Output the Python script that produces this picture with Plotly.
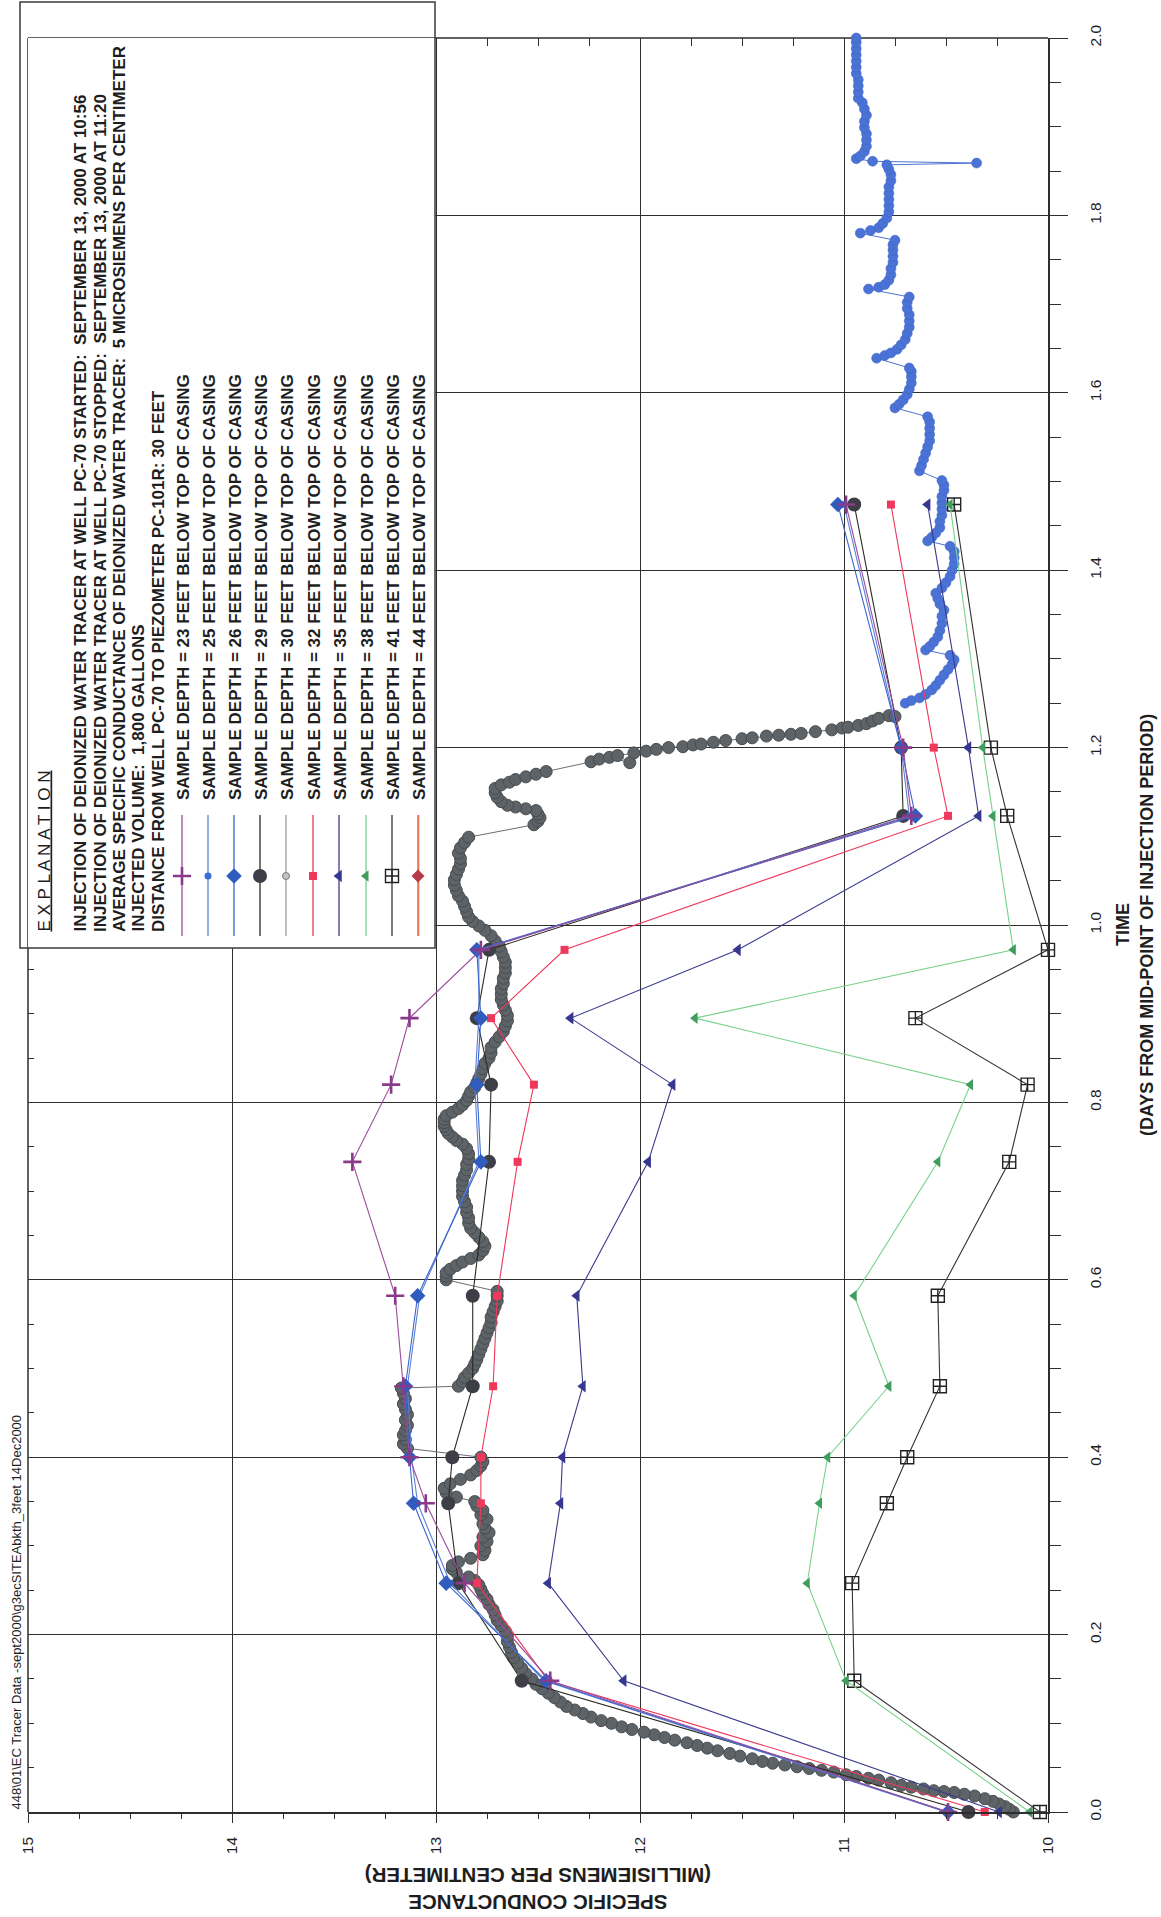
import plotly.graph_objects as go

# ---------------- canvas / plot-area geometry ----------------
W, H = 1161, 1917
X0, X1, Y0, Y1 = 28, 1048, 38, 1812   # plot area in pixels

# ---------------- data ----------------
SAMPLE_TIMES = [0.0, 0.148, 0.258, 0.348, 0.40, 0.48, 0.582, 0.733, 0.82, 0.895, 0.972, 1.123, 1.20, 1.474]
SC_23FT = [10.49, 12.44, 12.86, 13.05, 13.13, 13.16, 13.20, 13.41, 13.22, 13.13, 12.78, 10.67, 10.71, 10.99]
SC_25FT = [10.50, 12.47, 12.93, 13.09, 13.12, 13.14, 13.08, 12.79, 12.81, 12.79, 12.79, 10.68, 10.72, 11.00]
SC_26FT = [10.49, 12.46, 12.95, 13.11, 13.13, 13.15, 13.09, 12.78, 12.80, 12.78, 12.80, 10.65, 10.72, 11.03]
SC_29FT = [10.39, 12.58, 12.89, 12.94, 12.92, 12.82, 12.82, 12.74, 12.73, 12.80, 12.74, 10.71, 10.72, 10.95]
SC_32FT = [10.31, 12.45, 12.80, 12.78, 12.78, 12.72, 12.70, 12.60, 12.52, 12.73, 12.37, 10.49, 10.56, 10.77]
SC_35FT = [10.24, 12.08, 12.45, 12.39, 12.38, 12.28, 12.31, 11.96, 11.84, 12.34, 11.52, 10.34, 10.39, 10.59]
SC_38FT = [10.09, 10.99, 11.18, 11.12, 11.08, 10.78, 10.95, 10.54, 10.38, 11.73, 10.17, 10.27, 10.32, 10.48]
SC_41FT = [10.04, 10.95, 10.96, 10.79, 10.69, 10.53, 10.54, 10.19, 10.10, 10.65, 10.00, 10.20, 10.28, 10.46]

# continuous record (time in days, specific conductance mS/cm)
PROBE_GRAY = [
    (0.000, 10.17), (0.003, 10.19), (0.006, 10.21), (0.009, 10.24), (0.012, 10.27), (0.015, 10.31),
    (0.018, 10.36), (0.020, 10.41), (0.022, 10.46), (0.023, 10.51), (0.024, 10.56), (0.026, 10.61),
    (0.028, 10.67), (0.030, 10.72), (0.033, 10.77), (0.036, 10.83), (0.038, 10.88), (0.040, 10.94),
    (0.042, 10.99), (0.045, 11.05), (0.047, 11.11), (0.049, 11.17), (0.051, 11.23), (0.053, 11.29),
    (0.055, 11.35), (0.057, 11.40), (0.060, 11.45), (0.063, 11.51), (0.066, 11.56), (0.069, 11.62),
    (0.072, 11.67), (0.075, 11.72), (0.078, 11.77), (0.081, 11.83), (0.084, 11.88), (0.087, 11.93),
    (0.090, 11.98), (0.093, 12.04), (0.096, 12.09), (0.100, 12.14), (0.103, 12.19), (0.107, 12.24),
    (0.111, 12.28), (0.115, 12.32), (0.119, 12.36), (0.124, 12.39), (0.129, 12.42), (0.134, 12.45),
    (0.139, 12.48), (0.144, 12.51), (0.150, 12.53), (0.156, 12.56), (0.162, 12.58), (0.168, 12.60),
    (0.174, 12.62), (0.180, 12.63), (0.186, 12.64), (0.192, 12.65), (0.198, 12.65), (0.204, 12.66),
    (0.210, 12.68), (0.216, 12.70), (0.222, 12.71), (0.228, 12.72), (0.234, 12.74), (0.240, 12.75),
    (0.246, 12.77), (0.251, 12.78), (0.256, 12.79), (0.261, 12.81), (0.265, 12.84), (0.270, 12.90),
    (0.274, 12.92), (0.278, 12.92), (0.282, 12.89), (0.286, 12.83), (0.290, 12.77), (0.295, 12.76),
    (0.300, 12.78), (0.305, 12.75), (0.310, 12.77), (0.315, 12.74), (0.320, 12.76), (0.325, 12.77),
    (0.330, 12.75), (0.335, 12.78), (0.340, 12.77), (0.345, 12.80), (0.350, 12.81), (0.355, 12.90),
    (0.360, 12.95), (0.365, 12.96), (0.370, 12.93), (0.375, 12.88), (0.380, 12.83), (0.385, 12.80),
    (0.390, 12.78), (0.395, 12.77), (0.400, 12.78), (0.410, 13.14), (0.415, 13.16), (0.420, 13.15),
    (0.425, 13.16), (0.430, 13.15), (0.436, 13.14), (0.442, 13.15), (0.448, 13.14), (0.454, 13.15),
    (0.460, 13.16), (0.466, 13.15), (0.472, 13.16), (0.478, 13.17), (0.480, 12.89), (0.485, 12.87),
    (0.490, 12.86), (0.495, 12.84), (0.500, 12.82), (0.505, 12.81), (0.510, 12.80), (0.516, 12.79),
    (0.522, 12.78), (0.528, 12.77), (0.534, 12.76), (0.540, 12.75), (0.546, 12.74), (0.552, 12.73),
    (0.558, 12.73), (0.564, 12.72), (0.570, 12.71), (0.576, 12.70), (0.582, 12.70), (0.587, 12.70),
    (0.600, 12.95), (0.604, 12.95), (0.608, 12.95), (0.612, 12.93), (0.616, 12.90), (0.620, 12.87),
    (0.624, 12.83), (0.628, 12.79), (0.633, 12.77), (0.638, 12.76), (0.643, 12.77), (0.648, 12.79),
    (0.653, 12.81), (0.658, 12.83), (0.664, 12.84), (0.670, 12.84), (0.676, 12.85), (0.682, 12.85),
    (0.688, 12.86), (0.694, 12.87), (0.700, 12.87), (0.706, 12.87), (0.712, 12.87), (0.718, 12.86),
    (0.724, 12.85), (0.730, 12.85), (0.736, 12.84), (0.742, 12.84), (0.748, 12.85), (0.753, 12.87),
    (0.757, 12.90), (0.761, 12.92), (0.765, 12.94), (0.769, 12.95), (0.773, 12.96), (0.777, 12.96),
    (0.781, 12.96), (0.785, 12.95), (0.789, 12.92), (0.793, 12.89), (0.797, 12.87), (0.802, 12.85),
    (0.807, 12.84), (0.812, 12.83), (0.817, 12.81), (0.822, 12.80), (0.827, 12.79), (0.832, 12.78),
    (0.838, 12.77), (0.844, 12.76), (0.850, 12.74), (0.856, 12.73), (0.862, 12.73), (0.868, 12.71),
    (0.874, 12.69), (0.880, 12.67), (0.886, 12.66), (0.892, 12.65), (0.898, 12.65), (0.904, 12.66),
    (0.910, 12.67), (0.916, 12.68), (0.922, 12.68), (0.928, 12.68), (0.934, 12.67), (0.940, 12.67),
    (0.946, 12.66), (0.952, 12.66), (0.958, 12.66), (0.964, 12.67), (0.970, 12.68), (0.976, 12.69),
    (0.982, 12.71), (0.988, 12.73), (0.994, 12.76), (0.999, 12.79), (1.004, 12.82), (1.009, 12.84),
    (1.015, 12.85), (1.021, 12.86), (1.027, 12.87), (1.033, 12.89), (1.039, 12.90), (1.045, 12.91),
    (1.051, 12.91), (1.057, 12.90), (1.063, 12.89), (1.069, 12.88), (1.075, 12.88), (1.081, 12.89),
    (1.087, 12.88), (1.093, 12.86), (1.099, 12.84), (1.113, 12.52), (1.117, 12.50), (1.121, 12.49),
    (1.125, 12.50), (1.129, 12.51), (1.131, 12.56), (1.133, 12.61), (1.135, 12.65), (1.139, 12.68),
    (1.144, 12.70), (1.149, 12.71), (1.154, 12.71), (1.158, 12.68), (1.161, 12.64), (1.164, 12.61),
    (1.167, 12.56), (1.170, 12.51), (1.173, 12.46), (1.184, 12.24), (1.187, 12.20), (1.189, 12.15),
    (1.183, 12.05), (1.191, 12.11), (1.194, 12.03), (1.196, 11.97), (1.198, 11.92), (1.200, 11.86),
    (1.201, 11.79), (1.203, 11.74), (1.204, 11.70), (1.206, 11.64), (1.208, 11.58), (1.210, 11.50),
    (1.211, 11.45), (1.213, 11.38), (1.214, 11.32), (1.215, 11.26), (1.216, 11.21), (1.218, 11.14),
    (1.220, 11.06), (1.222, 11.01), (1.223, 10.98), (1.225, 10.93), (1.227, 10.89), (1.230, 10.86),
    (1.233, 10.83), (1.236, 10.78), (1.235, 10.75),
]
PROBE_BLUE = [
    (1.250, 10.70), (1.253, 10.67), (1.256, 10.63), (1.260, 10.60), (1.265, 10.57), (1.270, 10.55),
    (1.276, 10.53), (1.282, 10.51), (1.288, 10.49), (1.294, 10.47), (1.299, 10.46), (1.304, 10.48),
    (1.310, 10.60), (1.314, 10.58), (1.319, 10.56), (1.325, 10.54), (1.332, 10.53), (1.340, 10.52),
    (1.348, 10.52), (1.355, 10.51), (1.362, 10.53), (1.368, 10.54), (1.374, 10.55), (1.380, 10.52),
    (1.386, 10.50), (1.393, 10.48), (1.400, 10.47), (1.407, 10.46), (1.414, 10.46), (1.421, 10.46),
    (1.427, 10.48), (1.433, 10.59), (1.437, 10.57), (1.442, 10.55), (1.448, 10.53), (1.455, 10.53),
    (1.462, 10.52), (1.469, 10.52), (1.476, 10.52), (1.483, 10.52), (1.490, 10.51), (1.496, 10.51),
    (1.501, 10.52), (1.512, 10.63), (1.518, 10.62), (1.525, 10.61), (1.532, 10.60), (1.539, 10.59),
    (1.546, 10.58), (1.553, 10.58), (1.560, 10.58), (1.567, 10.58), (1.573, 10.59), (1.583, 10.75),
    (1.587, 10.73), (1.592, 10.71), (1.598, 10.69), (1.604, 10.68), (1.611, 10.67), (1.618, 10.67),
    (1.624, 10.67), (1.628, 10.68), (1.639, 10.84), (1.642, 10.80), (1.645, 10.77), (1.649, 10.74),
    (1.654, 10.72), (1.660, 10.70), (1.667, 10.69), (1.674, 10.68), (1.681, 10.68), (1.688, 10.68),
    (1.695, 10.69), (1.702, 10.69), (1.708, 10.68), (1.717, 10.88), (1.719, 10.83), (1.722, 10.80),
    (1.727, 10.78), (1.733, 10.77), (1.740, 10.77), (1.747, 10.76), (1.754, 10.76), (1.761, 10.76),
    (1.767, 10.76), (1.772, 10.75), (1.780, 10.92), (1.783, 10.87), (1.786, 10.83), (1.791, 10.81),
    (1.797, 10.79), (1.804, 10.78), (1.811, 10.78), (1.818, 10.78), (1.825, 10.78), (1.832, 10.78),
    (1.839, 10.77), (1.846, 10.77), (1.852, 10.78), (1.857, 10.79), (1.859, 10.35), (1.861, 10.86),
    (1.864, 10.94), (1.867, 10.92), (1.872, 10.90), (1.878, 10.89), (1.885, 10.89), (1.892, 10.89),
    (1.899, 10.90), (1.906, 10.90), (1.913, 10.89), (1.920, 10.90), (1.927, 10.91), (1.932, 10.93),
    (1.939, 10.93), (1.946, 10.93), (1.953, 10.93), (1.960, 10.94), (1.967, 10.94), (1.974, 10.94),
    (1.981, 10.94), (1.988, 10.94), (1.995, 10.94), (2.000, 10.94),
]

LEGEND_LABELS = [
    "SAMPLE DEPTH = 23 FEET BELOW TOP OF CASING",
    "SAMPLE DEPTH = 25 FEET BELOW TOP OF CASING",
    "SAMPLE DEPTH = 26 FEET BELOW TOP OF CASING",
    "SAMPLE DEPTH = 29 FEET BELOW TOP OF CASING",
    "SAMPLE DEPTH = 30 FEET BELOW TOP OF CASING",
    "SAMPLE DEPTH = 32 FEET BELOW TOP OF CASING",
    "SAMPLE DEPTH = 35 FEET BELOW TOP OF CASING",
    "SAMPLE DEPTH = 38 FEET BELOW TOP OF CASING",
    "SAMPLE DEPTH = 41 FEET BELOW TOP OF CASING",
    "SAMPLE DEPTH = 44 FEET BELOW TOP OF CASING",
]
EXPLANATION_LINES = [
    "INJECTION OF DEIONIZED WATER TRACER AT WELL PC-70 STARTED:  SEPTEMBER 13, 2000 AT 10:56",
    "INJECTION OF DEIONIZED WATER TRACER AT WELL PC-70 STOPPED:  SEPTEMBER 13, 2000 AT 11:20",
    "AVERAGE SPECIFIC CONDUCTANCE OF DEIONIZED WATER TRACER:  5 MICROSIEMENS PER CENTIMETER",
    "INJECTED VOLUME:  1,800 GALLONS",
    "DISTANCE FROM WELL PC-70 TO PIEZOMETER PC-101R: 30 FEET",
]
HEADER = r"448\01\EC Tracer Data -sept2000\g3ecSITEAbkth_3feet 14Dec2000"

# ---------------- styles (one per legend entry) ----------------
STYLES = [
    dict(line="#9a4a9a", mcol="#8a3a8a", sym="cross-thin-open", size=13, mlw=2.6),
    dict(line="#5b7fd8", mcol="#3a6cd6", sym="circle", size=7, mlw=0),
    dict(line="#3a66cf", mcol="#2f5cbd", sym="diamond", size=12, mlw=0),
    dict(line="#2b2b22", mcol="#3e3e46", sym="circle", size=14, mlw=0),
    dict(line="#9a9a9a", mcol="#c4c4c4", sym="circle", size=7, mlw=1),
    dict(line="#f0375c", mcol="#f0375c", sym="square", size=8, mlw=0),
    dict(line="#393a8e", mcol="#36388f", sym="triangle-left", size=11, mlw=0),
    dict(line="#78d28a", mcol="#3f9e5e", sym="triangle-left", size=10, mlw=0),
    dict(line="#333333", mcol="#222222", sym="square-cross-open", size=13, mlw=1.4),
    dict(line="#e2482c", mcol="#b43a48", sym="diamond", size=10, mlw=0),
]
SERIES = [SC_23FT, SC_25FT, SC_26FT, SC_29FT, None, SC_32FT, SC_35FT, SC_38FT, SC_41FT, None]

FONT = "Liberation Sans, Arial, sans-serif"
INK = "#1e1e1e"
GRID = "#2e2e2e"


def px_paper(x=None, y=None):
    px = None if x is None else (x - X0) / (X1 - X0)
    py = None if y is None else (Y1 - y) / (Y1 - Y0)
    return px, py


def px_data(x, y):
    c = 15 - (x - X0) / (X1 - X0) * 5.0
    t = (Y1 - y) / (Y1 - Y0) * 2.0
    return c, t


fig = go.Figure()

# continuous probe record (drawn first, underneath)
fig.add_trace(go.Scatter(
    x=[p[1] for p in PROBE_GRAY], y=[p[0] for p in PROBE_GRAY], mode="lines+markers",
    line=dict(color="#6a6e72", width=1),
    marker=dict(symbol="circle", size=12, color="#5d6367", line=dict(color="#474c50", width=1)),
    cliponaxis=False, showlegend=False, hoverinfo="skip"))
fig.add_trace(go.Scatter(
    x=[p[1] for p in PROBE_BLUE], y=[p[0] for p in PROBE_BLUE], mode="lines+markers",
    line=dict(color="#4d73d4", width=1),
    marker=dict(symbol="circle", size=10, color="#4b73d6", line=dict(color="#3d63c4", width=0.5)),
    cliponaxis=False, showlegend=False, hoverinfo="skip"))

# discrete samples
order = [8, 7, 6, 5, 3, 1, 2, 0]
for i in order:
    s = STYLES[i]
    vals = SERIES[i]
    mk = dict(symbol=s["sym"], size=s["size"], color=s["mcol"])
    if "open" in s["sym"]:
        mk["line"] = dict(color=s["mcol"], width=s["mlw"])
    fig.add_trace(go.Scatter(
        x=vals, y=SAMPLE_TIMES, mode="lines+markers",
        line=dict(color=s["line"], width=1.1), marker=mk,
        cliponaxis=False, showlegend=False, hoverinfo="skip"))

# empty traces so that the mirrored (inside-tick) axes render
fig.add_trace(go.Scatter(x=[None], y=[None], xaxis="x2", yaxis="y", showlegend=False, hoverinfo="skip"))
fig.add_trace(go.Scatter(x=[None], y=[None], xaxis="x", yaxis="y2", showlegend=False, hoverinfo="skip"))

# ---------------- legend symbols (pixel-space overlay axes) ----------------
LEG_X = [182, 208, 234, 260, 286, 313, 339, 366, 392, 418]
for i, lx in enumerate(LEG_X):
    s = STYLES[i]
    if i == 9:
        fig.add_trace(go.Scatter(x=[lx + 1.2, lx + 1.2], y=[815, 936], mode="lines",
                                 line=dict(color="#f2d23a", width=1.2), xaxis="x3", yaxis="y3",
                                 showlegend=False, hoverinfo="skip"))
    fig.add_trace(go.Scatter(x=[lx, lx], y=[815, 936], mode="lines",
                             line=dict(color=s["line"], width=1.3), xaxis="x3", yaxis="y3",
                             showlegend=False, hoverinfo="skip"))
    mk = dict(symbol=s["sym"], size=s["size"], color=s["mcol"])
    if "open" in s["sym"]:
        mk["line"] = dict(color=s["mcol"], width=s["mlw"])
    elif s["mlw"]:
        mk["line"] = dict(color="#777777", width=s["mlw"])
    fig.add_trace(go.Scatter(x=[lx], y=[876], mode="markers", marker=mk, xaxis="x3", yaxis="y3",
                             showlegend=False, hoverinfo="skip"))

# ---------------- annotations ----------------
LEGFONT = dict(family=FONT, size=17, color=INK)
ann = []
hx, hy = px_paper(16, 1812)
ann.append(dict(text=HEADER, x=hx, y=hy, xref="paper", yref="paper", textangle=-90,
                xanchor="center", yanchor="bottom", showarrow=False,
                font=dict(family=FONT, size=13, color=INK)))
ex, ey = px_paper(44, 934)
ann.append(dict(text="<u>E X P L A N A T I O N</u>", x=ex, y=ey, xref="paper", yref="paper",
                textangle=-90, xanchor="center", yanchor="bottom", showarrow=False,
                font=dict(family=FONT, size=17, color=INK)))
for lx, txt in zip([80, 100, 119, 138, 158], EXPLANATION_LINES):
    ax_, ay_ = px_paper(lx, 934)
    ann.append(dict(text="<b>" + txt + "</b>", x=ax_, y=ay_, xref="paper", yref="paper", textangle=-90,
                    xanchor="center", yanchor="bottom", showarrow=False, font=LEGFONT))
for lx, txt in zip(LEG_X, LEGEND_LABELS):
    ax_, ay_ = px_paper(lx + 1, 802)
    ann.append(dict(text="<b>" + txt + "</b>", x=ax_, y=ay_, xref="paper", yref="paper", textangle=-90,
                    xanchor="center", yanchor="bottom", showarrow=False, font=LEGFONT))
bx, by = px_paper(538, 1889)
ann.append(dict(text="<b>SPECIFIC CONDUCTANCE<br>(MILLISIEMENS PER CENTIMETER)</b>", x=bx, y=by,
                xref="paper", yref="paper", textangle=180, xanchor="center", yanchor="middle",
                showarrow=False, font=dict(family=FONT, size=20.5, color=INK)))
tx, ty = px_paper(1123, 925)
ann.append(dict(text="<b>TIME</b>", x=tx, y=ty, xref="paper", yref="paper", textangle=-90,
                xanchor="center", yanchor="middle", showarrow=False,
                font=dict(family=FONT, size=18, color=INK)))
dx, dy = px_paper(1147, 925)
ann.append(dict(text="<b>(DAYS FROM MID-POINT OF INJECTION PERIOD)</b>", x=dx, y=dy, xref="paper",
                yref="paper", textangle=-90, xanchor="center", yanchor="middle", showarrow=False,
                font=dict(family=FONT, size=18, color=INK)))

# ---------------- shapes ----------------
c_l, t_t = px_data(20, 2)
c_r, t_b = px_data(435, 948)
shapes = [
    # top / left border of the plot (covered by the explanation box)
    dict(type="line", xref="paper", yref="paper", x0=0, x1=1, y0=1, y1=1, layer="below",
         line=dict(color=GRID, width=1.5)),
    dict(type="line", xref="paper", yref="paper", x0=0, x1=0, y0=0, y1=1, layer="below",
         line=dict(color=GRID, width=1.5)),
    # white fill of explanation box, above gridlines but below traces
    dict(type="rect", xref="x", yref="y", x0=c_l, x1=c_r, y0=t_b, y1=t_t, layer="between",
         fillcolor="white", line=dict(width=0)),
]
bl, bt = px_paper(20, 2)
br, bb = px_paper(435, 948)
shapes.append(dict(type="rect", xref="paper", yref="paper", x0=bl, x1=br, y0=bb, y1=bt,
                   layer="above", fillcolor="rgba(0,0,0,0)", line=dict(color="#3a3a3a", width=1.5)))

TOP_MINOR = [12.75, 12.5, 12.25, 11.75, 11.5, 11.25, 10.75, 10.5, 10.25]
LEFT_MINOR = [0.05, 0.1, 0.15, 0.25, 0.3, 0.35, 0.45, 0.5, 0.55, 0.65, 0.7, 0.75, 0.85, 0.9, 0.95]

fig.update_layout(
    width=W, height=H, autosize=False,
    margin=dict(l=X0, r=W - X1, t=Y0, b=H - Y1, pad=0),
    paper_bgcolor="white", plot_bgcolor="rgba(0,0,0,0)",
    font=dict(family=FONT, color=INK),
    showlegend=False,
    xaxis=dict(range=[15, 10], dtick=1, tick0=10, showgrid=True, gridcolor=GRID, gridwidth=1,
               showline=True, linecolor=GRID, linewidth=1.5, zeroline=False,
               ticks="outside", ticklen=9, tickwidth=1.2, tickcolor=GRID,
               minor=dict(dtick=0.25, tick0=10, ticks="outside", ticklen=5, tickwidth=1,
                          tickcolor=GRID, showgrid=False),
               tickangle=-90, ticklabelstandoff=8,
               tickfont=dict(family=FONT, size=15.5, color=INK)),
    yaxis=dict(range=[0, 2], dtick=0.2, tick0=0, tickformat=".1f", side="right",
               showgrid=True, gridcolor=GRID, gridwidth=1,
               showline=True, linecolor=GRID, linewidth=1.5, zeroline=False,
               ticks="outside", ticklen=18, tickwidth=1.2, tickcolor=GRID,
               minor=dict(dtick=0.05, tick0=0, ticks="outside", ticklen=11, tickwidth=1,
                          tickcolor=GRID, showgrid=False),
               tickangle=-90, ticklabelstandoff=15,
               tickfont=dict(family=FONT, size=15.5, color=INK)),
    xaxis2=dict(overlaying="x", side="top", anchor="y", range=[15, 10], tickmode="array",
                tickvals=TOP_MINOR, ticks="inside", ticklen=8, tickwidth=1, tickcolor=GRID,
                showticklabels=False, showgrid=False, showline=False, zeroline=False),
    yaxis2=dict(overlaying="y", side="left", anchor="x", range=[0, 2], tickmode="array",
                tickvals=LEFT_MINOR, ticks="inside", ticklen=6, tickwidth=1, tickcolor=GRID,
                showticklabels=False, showgrid=False, showline=False, zeroline=False),
    xaxis3=dict(overlaying="x", anchor="y3", range=[X0, X1], visible=False, fixedrange=True),
    yaxis3=dict(overlaying="y", anchor="x3", range=[Y1, Y0], visible=False, fixedrange=True),
    annotations=ann,
    shapes=shapes,
)

fig.write_html("out.html")
